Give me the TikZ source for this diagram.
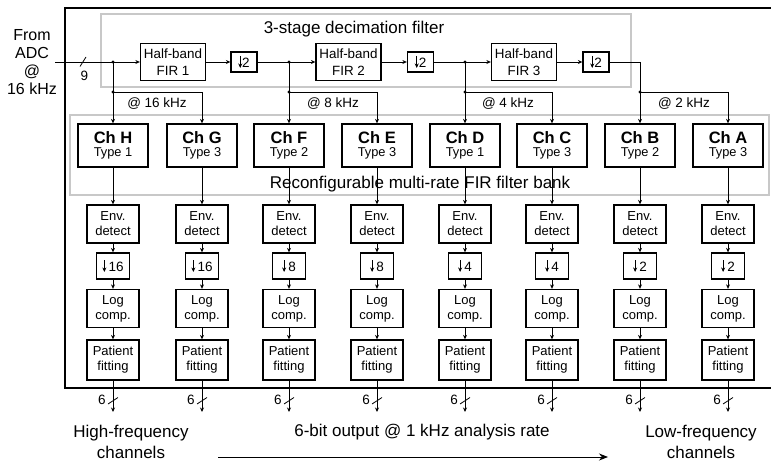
\documentclass[tikz,border=0pt]{standalone}
\usepackage{fontspec}
\setmainfont{Liberation Sans}
\usetikzlibrary{arrows.meta}
\definecolor{greybox}{RGB}{200,200,200}
\newcommand\dnar{\tikz[baseline=-1pt]\draw[line width=0.9pt,-{Stealth[length=4.5pt,width=4pt]}](0pt,10.5pt)--(0pt,-1.5pt);}
\tikzset{
  box/.style={draw, line width=1.3pt, align=center, inner sep=0pt, fill=white},
  hb/.style={box, minimum width=65pt, minimum height=37pt, font=\fontsize{13.4}{16.5}\selectfont},
  dn/.style={box, minimum width=26pt, minimum height=20pt, font=\fontsize{13.5}{15}\selectfont},
  chbox/.style={box, minimum width=70pt, minimum height=43pt},
  sm/.style={box, minimum width=52pt, minimum height=38pt, font=\fontsize{13}{15}\selectfont},
  dn2/.style={box, minimum width=33pt, minimum height=26pt, font=\fontsize{13.5}{15}\selectfont},
  wire/.style={line width=0.8pt},
  conn/.style={line width=0.8pt, -{Stealth[length=4.5pt,width=4pt]}},
  lbl/.style={font=\fontsize{13.5}{15}\selectfont, inner sep=0pt},
  big/.style={font=\fontsize{17}{21}\selectfont, align=center, inner sep=0pt},
  dot/.style={fill, circle, inner sep=0pt, minimum size=3.2pt}
}
\begin{document}
\begin{tikzpicture}[x=1pt,y=-1pt]
\useasboundingbox (0,0) rectangle (771,468);
% frames
\draw[line width=2.6pt] (65,8) rectangle (776,388);
\draw[greybox, line width=1.8pt] (101,14) rectangle (631,87);
\draw[greybox, line width=1.8pt] (70,115) rectangle (769,195);
\node[big] (ttl1) at (354,29) {3-stage decimation filter};
\node[big] (ttl2) at (420,184) {Reconfigurable multi-rate FIR filter bank};
% input
\node[font=\fontsize{16}{18}\selectfont, align=center, inner sep=0pt] (src) at (32,62) {From\\ADC\\@\\16 kHz};
\coordinate (in) at (55,62);
\node[hb] (f1) at (173,62) {Half-band\\FIR 1};
\node[dn] (d1) at (244,62) {\dnar2};
\node[hb] (f2) at (348.5,62) {Half-band\\FIR 2};
\node[dn] (d2) at (420.5,62) {\dnar2};
\node[hb] (f3) at (524,62) {Half-band\\FIR 3};
\node[dn] (d3) at (596,62) {\dnar2};
\coordinate (j1) at (113,62); \coordinate (k1) at (113,92);
\coordinate (j2) at (289,62); \coordinate (k2) at (289,92);
\coordinate (j3) at (465,62); \coordinate (k3) at (465,92);
\coordinate (j4) at (640,62); \coordinate (k4) at (640,92);
\draw[conn] (in) -- (f1.west);
\draw[conn] (f1) -- (d1);
\draw[conn] (d1) -- (f2);
\draw[conn] (f2) -- (d2);
\draw[conn] (d2) -- (f3);
\draw[conn] (f3) -- (d3);
\draw[wire] (d3.east) -- (j4);
\draw[wire] (80,66.5) -- (86,57);
\node[lbl] (nine) at (84.5,76) {9};
% channels
\foreach \x/\n/\d/\t in {113/H/16/1, 202/G/16/3, 289/F/8/2, 377/E/8/3, 465/D/4/1, 552/C/4/3, 640/B/2/2, 728/A/2/3} {
  \node[chbox] (ch\n) at (\x,145.5) {\fontsize{16.5}{17}\selectfont\bfseries Ch \n\\[1pt]\fontsize{12.8}{14}\selectfont Type \t};
  \node[sm] (env\n) at (\x,224) {Env.\\detect};
  \node[dn2] (ds\n) at (\x,266) {\dnar\,\d};
  \node[sm] (log\n) at (\x,308.5) {Log\\comp.};
  \node[sm, minimum height=40pt] (pf\n) at (\x,360) {Patient\\fitting};
  \coordinate (o\n) at (\x,412);
  \draw[conn] (ch\n) -- (env\n);
  \draw[conn] (env\n) -- (ds\n);
  \draw[conn] (ds\n) -- (log\n);
  \draw[conn] (log\n) -- (pf\n);
  \draw[conn] (pf\n) -- (o\n);
  \draw[wire] (\x-5,404) -- (\x+5,397.5);
  \node[lbl] (six\n) at (\x-11,400) {6};
}
% distribution
\draw[conn] (j1) -- (chH);
\draw[conn] (k1) -| (chG);
\draw[conn] (j2) -- (chF);
\draw[conn] (k2) -| (chE);
\draw[conn] (j3) -- (chD);
\draw[conn] (k3) -| (chC);
\draw[conn] (j4) -- (chB);
\draw[conn] (k4) -| (chA);
\foreach \c in {j1,k1,j2,k2,j3,k3,k4} { \node[dot] at (\c) {}; }
\node[lbl] (r1) at (157,104) {@ 16 kHz};
\node[lbl] (r2) at (333,104) {@ 8 kHz};
\node[lbl] (r3) at (508,104) {@ 4 kHz};
\node[lbl] (r4) at (684,104) {@ 2 kHz};
% bottom
\node[big] (hf) at (131,442) {High-frequency\\channels};
\node[big] (lf) at (701,442) {Low-frequency\\channels};
\node[big] (outl) at (422,432) {6-bit output @ 1 kHz analysis rate};
\coordinate (a0) at (218,457); \coordinate (a1) at (608,457);
\draw[line width=0.9pt, -{Stealth[length=9pt,width=7pt]}] (a0) -- (a1);
\end{tikzpicture}
\end{document}
